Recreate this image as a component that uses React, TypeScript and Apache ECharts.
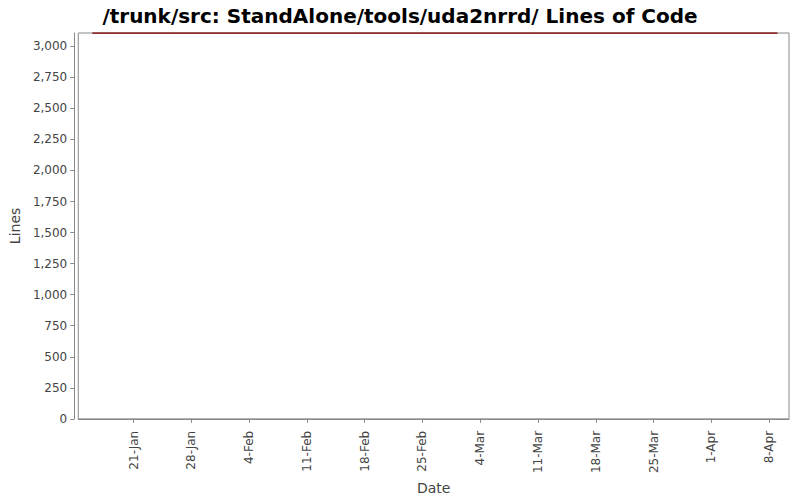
import React, { useEffect, useRef } from 'react';
import * as echarts from 'echarts';

const DAY = 24 * 60 * 60 * 1000;
const MONTHS = ['Jan', 'Feb', 'Mar', 'Apr', 'May', 'Jun', 'Jul', 'Aug', 'Sep', 'Oct', 'Nov', 'Dec'];

// line of code counts over time
const pointDates = ['2007-01-16', '2007-04-09'];
const pointLines = [3107, 3107];

// weekly date ticks on the x axis
const xTickDates = [
  '2007-01-21', '2007-01-28', '2007-02-04', '2007-02-11', '2007-02-18', '2007-02-25',
  '2007-03-04', '2007-03-11', '2007-03-18', '2007-03-25', '2007-04-01', '2007-04-08',
];
const yTicks = [0, 250, 500, 750, 1000, 1250, 1500, 1750, 2000, 2250, 2500, 2750, 3000];

const toTime = (s: string) => {
  const [y, m, d] = s.split('-').map(Number);
  return Date.UTC(y, m - 1, d);
};

const fmtDate = (v: number) => {
  const d = new Date(Math.round(v / DAY) * DAY);
  return `${d.getUTCDate()}-${MONTHS[d.getUTCMonth()]}`;
};

const FONT = '"DejaVu Sans", sans-serif';

export default function App() {
  const chartRef = useRef<HTMLDivElement>(null);

  useEffect(() => {
    if (!chartRef.current) return;
    document.body.style.margin = '0';
    const chart = echarts.init(chartRef.current, undefined, { renderer: 'svg' });

    const xTicks = xTickDates.map(toTime);
    const xMin = xTicks[0] - 6.7 * DAY;
    const xMax = xTicks[xTicks.length - 1] + 2.4 * DAY;

    const option: echarts.EChartsOption = {
      animation: false,
      backgroundColor: '#fff',
      title: {
        text: '/trunk/src: StandAlone/tools/uda2nrrd/ Lines of Code',
        left: 'center',
        top: 1,
        textStyle: { fontFamily: FONT, fontSize: 20, fontWeight: 'bold', color: '#000' },
      },
      grid: {
        left: 78,
        top: 33,
        right: 11,
        bottom: 78,
        show: true,
        borderColor: '#888',
        borderWidth: 1,
        backgroundColor: '#fff',
      },
      xAxis: {
        type: 'value',
        min: xMin,
        max: xMax,
        offset: 4,
        name: 'Date',
        nameLocation: 'middle',
        nameGap: 51,
        nameTextStyle: { fontFamily: FONT, fontSize: 14, color: '#444' },
        axisLine: { show: true, lineStyle: { color: '#888' } },
        axisTick: { show: true, length: 4, lineStyle: { color: '#888' }, customValues: xTicks },
        axisLabel: {
          customValues: xTicks,
          rotate: 90,
          margin: 8,
          fontFamily: FONT,
          fontSize: 12,
          color: '#444',
          formatter: (v: number) => fmtDate(v),
        },
        splitLine: { show: false },
      },
      yAxis: {
        type: 'value',
        min: 0,
        max: 3107,
        offset: 4,
        name: 'Lines',
        nameLocation: 'middle',
        nameGap: 47,
        nameTextStyle: { fontFamily: FONT, fontSize: 14, color: '#444' },
        axisLine: { show: true, lineStyle: { color: '#888' } },
        axisTick: { show: true, length: 4, lineStyle: { color: '#888' }, customValues: yTicks },
        axisLabel: {
          customValues: yTicks,
          margin: 7,
          fontFamily: FONT,
          fontSize: 12,
          color: '#444',
          formatter: (v: number) => v.toLocaleString('en-US'),
        },
        splitLine: { show: false },
      },
      series: [
        {
          type: 'line',
          data: pointDates.map((d, i) => [toTime(d), pointLines[i]]),
          showSymbol: false,
          lineStyle: { color: '#800000', width: 1.5 },
          itemStyle: { color: '#800000' },
          z: 5,
        },
      ],
    };

    chart.setOption(option);
    return () => {
      chart.dispose();
    };
  }, []);

  return <div ref={chartRef} style={{ width: 800, height: 500 }} />;
}
